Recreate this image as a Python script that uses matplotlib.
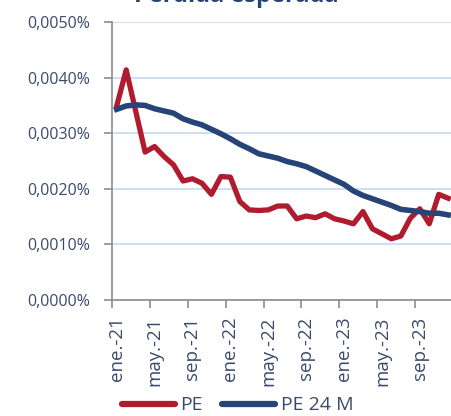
import numpy as np
import matplotlib.pyplot as plt
from matplotlib.ticker import FuncFormatter, FixedLocator

plt.rcParams['font.family'] = ['Open Sans', 'DejaVu Sans']

# meses ene-21 .. dic-23
meses = ['ene', 'feb', 'mar', 'abr', 'may', 'jun', 'jul', 'ago', 'sep', 'oct', 'nov', 'dic']
fechas = [f"{m}.-{a}" for a in ('21', '22', '23') for m in meses]

# valores en %
pe = [0.00349, 0.00414, 0.00340, 0.00266, 0.00276, 0.00258, 0.00243, 0.00214,
      0.00218, 0.00210, 0.00190, 0.00222, 0.00221, 0.00177, 0.00162, 0.00161,
      0.00162, 0.00169, 0.00169, 0.00146, 0.00151, 0.00148, 0.00155, 0.00146,
      0.00142, 0.00137, 0.00159, 0.00128, 0.00119, 0.00110, 0.00115, 0.00147,
      0.00164, 0.00137, 0.00190, 0.00183]
pe_24m = [0.00343, 0.00349, 0.00351, 0.00350, 0.00344, 0.00340, 0.00336, 0.00326,
          0.00320, 0.00315, 0.00307, 0.00299, 0.00290, 0.00280, 0.00272, 0.00263,
          0.00259, 0.00255, 0.00249, 0.00245, 0.00240, 0.00232, 0.00224, 0.00216,
          0.00208, 0.00196, 0.00188, 0.00182, 0.00176, 0.00170, 0.00163, 0.00161,
          0.00159, 0.00156, 0.00156, 0.00153]

rojo = '#b01c2e'
azul = '#264478'
texto = '#3b4a6b'

fig = plt.figure(figsize=(4.51, 4.16), dpi=100)
ax = fig.add_axes([0.2483, 0.279, 0.756, 0.668])

x = np.arange(len(fechas))
ax.plot(x, pe, color=rojo, lw=3.8, label='PE')
ax.plot(x, pe_24m, color=azul, lw=4.0, label='PE 24 M')

ax.set_xlim(-0.5, len(fechas) - 0.5)
ax.set_ylim(0, 0.005)
ax.set_yticks(np.arange(0, 0.0051, 0.001))
ax.yaxis.set_major_formatter(FuncFormatter(lambda v, p: f"{v:.4f}".replace('.', ',') + '%'))
ax.grid(axis='y', color='#c5d9f1', lw=1.2)
ax.set_axisbelow(True)

# ticks en los limites, etiquetas centradas cada 4 meses
ax.xaxis.set_major_locator(FixedLocator(np.arange(-0.5, len(fechas), 4)))
ax.xaxis.set_major_formatter(FuncFormatter(lambda v, p: ''))
ax.xaxis.set_minor_locator(FixedLocator(x[::4]))
ax.set_xticklabels([fechas[i] for i in x[::4]], minor=True, rotation=90)
ax.tick_params(axis='x', which='minor', length=0, pad=12, labelsize=13.5, labelcolor=texto)
ax.tick_params(axis='x', which='major', length=5.5, width=1.2, color='#8c8c8c')
ax.tick_params(axis='y', length=5.5, width=1.2, color='#8c8c8c', labelsize=11.5,
               labelcolor=texto, pad=10)

for s in ('top', 'right'):
    ax.spines[s].set_visible(False)
for s in ('left', 'bottom'):
    ax.spines[s].set_color('#8c8c8c')
    ax.spines[s].set_linewidth(1.2)

fig.text(0.525, 1 - 2 / 416, 'Pérdida esperada', ha='center', va='baseline', fontsize=17,
         fontweight='bold', color=azul)

leg = fig.legend(loc='lower center', bbox_to_anchor=(0.527, -0.038), ncol=2, frameon=False,
                 fontsize=14, handlelength=2.7, handletextpad=0.3, columnspacing=1.0)
for t in leg.get_texts():
    t.set_color(texto)
for h in leg.get_lines():
    h.set_linewidth(4.5)
    h.set_solid_capstyle('round')

fig.savefig('out.png', dpi=100)
